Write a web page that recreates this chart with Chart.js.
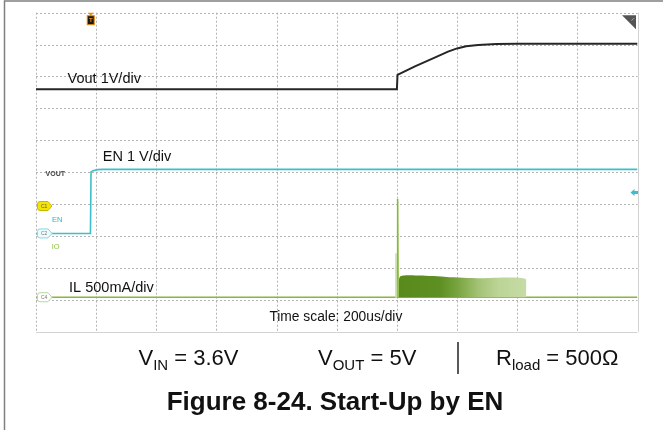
<!DOCTYPE html>
<html><head><meta charset="utf-8">
<script src="https://cdn.jsdelivr.net/npm/chart.js@4.4.0/dist/chart.umd.min.js"></script>
<style>html,body{margin:0;padding:0;background:#fff;}canvas{display:block;}</style>
</head><body>
<canvas id="c" width="663" height="430"></canvas>
<script>
// ---- axis description ----
const timePerDivUs = 200;          // 200 us/div
const timeDivs = 10;
const vertDivs = 10;

// ---- CH1 : Vout, 1 V/div ----
const voutOffsetDiv = 3.94;
const voutPerDiv = 1;
const voutTimeUs = [0, 1200, 1202, 1260, 1320, 1370, 1400, 1430, 1470, 1530, 1600, 2000];
const voutVolts  = [3.66, 3.66, 4.11, 4.38, 4.63, 4.84, 4.94, 5.01, 5.05, 5.08, 5.09, 5.09];

// ---- CH2 : EN, 1 V/div ----
const enOffsetDiv = 3.08;
const enPerDiv = 1;
const enTimeUs = [0, 181, 183, 188, 195, 205, 220, 2000];
const enVolts  = [0, 0, 1.93, 1.96, 1.98, 2.0, 2.01, 2.01];

// ---- CH4 : IL, 500 mA/div ----
const ilOffsetDiv = 1.08;
const ilPerDiv = 0.5;
const ilTimeUs = [0, 1201, 1202.5, 1204, 2000];
const ilAmps   = [0, 0, 1.54, 0, 0];
const ilGhostTimeUs = [1195, 1197, 1199];
const ilGhostAmps   = [0, 0.69, 0];
const ilBurstTimeUs = [1207, 1210, 1277, 1366, 1476, 1628, 1630];
const ilBurstAmps   = [0, 0.323, 0.339, 0.318, 0.298, 0.287, 0];

// ---- markers ----
const triggerTimeUs = 182;
const enTriggerLevelV = 1.28;

function toPoints(ts, vs, offset, perDiv) {
  return ts.map((t, i) => ({x: t, y: offset + vs[i] / perDiv}));
}

const FONT = '"Liberation Sans", Arial, sans-serif';

const scopePlugin = {
  id: 'scope',
  beforeDatasetsDraw(chart) {
    const {ctx, chartArea: a, scales: {x, y}} = chart;
    ctx.save();
    ctx.strokeStyle = '#b4b4b4';
    ctx.lineWidth = 1;
    ctx.setLineDash([2, 2]);
    for (let i = 0; i < timeDivs; i++) {
      const px = Math.round(x.getPixelForValue(i * timePerDivUs)) + 0.5;
      ctx.beginPath(); ctx.moveTo(px, a.top); ctx.lineTo(px, a.bottom); ctx.stroke();
    }
    for (let j = 1; j <= vertDivs; j++) {
      const py = Math.round(y.getPixelForValue(j)) + 0.5;
      ctx.beginPath(); ctx.moveTo(a.left, py); ctx.lineTo(a.right, py); ctx.stroke();
    }
    ctx.setLineDash([]);
    ctx.strokeStyle = '#d2d2d2';
    ctx.beginPath();
    ctx.moveTo(a.left, Math.round(a.bottom) + 0.5); ctx.lineTo(a.right, Math.round(a.bottom) + 0.5);
    ctx.moveTo(Math.round(a.right) + 0.5, a.top); ctx.lineTo(Math.round(a.right) + 0.5, a.bottom);
    ctx.stroke();
    ctx.restore();
  },
  afterDatasetsDraw(chart) {
    const {ctx, chartArea: a, scales: {x, y}} = chart;
    const X = t => x.getPixelForValue(t);
    const Y = d => y.getPixelForValue(d);
    ctx.save();
    // channel labels
    ctx.fillStyle = '#111';
    ctx.textBaseline = 'alphabetic';
    ctx.font = '14.5px ' + FONT;
    ctx.fillText('Vout 1V/div', X(105), Y(7.806));
    ctx.fillText('EN 1 V/div', X(222), Y(5.36));
    ctx.fillText('IL 500mA/div', X(110), Y(1.254));
    ctx.font = '13.8px ' + FONT;
    ctx.fillText('Time scale: 200us/div', X(776), Y(0.345));

    // tiny channel names
    ctx.textBaseline = 'middle';
    ctx.font = 'bold 7px ' + FONT;
    ctx.fillStyle = '#444';
    ctx.fillText('VOUT', X(32), Y(4.94));
    ctx.font = '7.5px ' + FONT;
    ctx.fillStyle = '#2fb5c0';
    ctx.fillText('EN', X(53), Y(3.50));
    ctx.fillStyle = '#8cbf3c';
    ctx.fillText('IO', X(52), Y(2.646));

    // ground tags
    function tag(yy, fill, stroke, label, lc) {
      const x0 = a.left + 1.5, h = 4.5, w = 14.5;
      ctx.beginPath();
      ctx.moveTo(x0 + 2.5, yy - h);
      ctx.lineTo(x0 + w - 4, yy - h);
      ctx.lineTo(x0 + w, yy);
      ctx.lineTo(x0 + w - 4, yy + h);
      ctx.lineTo(x0 + 2.5, yy + h);
      ctx.quadraticCurveTo(x0, yy + h, x0, yy + h - 2.5);
      ctx.lineTo(x0, yy - h + 2.5);
      ctx.quadraticCurveTo(x0, yy - h, x0 + 2.5, yy - h);
      ctx.closePath();
      ctx.fillStyle = fill; ctx.fill();
      ctx.strokeStyle = stroke; ctx.lineWidth = 1; ctx.stroke();
      ctx.fillStyle = lc; ctx.font = '5px ' + FONT; ctx.textBaseline = 'middle';
      ctx.fillText(label, x0 + 3.5, yy + 0.3);
    }
    tag(Y(voutOffsetDiv), '#f2e40a', '#c9b800', 'C1', '#555');
    tag(Y(enOffsetDiv), '#eefbfc', '#86d9e0', 'C2', '#777');
    tag(Y(ilOffsetDiv), '#ffffff', '#b6d99a', 'C4', '#777');

    // trigger position marker (top)
    const tx = X(triggerTimeUs);
    ctx.fillStyle = '#f08a10';
    ctx.beginPath(); ctx.moveTo(tx - 3, a.top); ctx.lineTo(tx + 3, a.top); ctx.lineTo(tx, a.top + 3); ctx.closePath(); ctx.fill();
    ctx.fillStyle = '#1a1a1a'; ctx.strokeStyle = '#f08a10'; ctx.lineWidth = 1;
    ctx.fillRect(tx - 3.5, a.top + 3, 7, 9); ctx.strokeRect(tx - 3.5, a.top + 3, 7, 9);
    ctx.fillStyle = '#f08a10'; ctx.font = 'bold 6px ' + FONT; ctx.textAlign = 'center';
    ctx.fillText('T', tx, a.top + 7.8);
    ctx.textAlign = 'left';

    // top-right triangle
    ctx.fillStyle = '#555';
    ctx.beginPath();
    ctx.moveTo(a.right - 15.5, a.top + 2.5); ctx.lineTo(a.right - 1.5, a.top + 2.5); ctx.lineTo(a.right - 1.5, a.top + 16.5); ctx.closePath(); ctx.fill();
    ctx.strokeStyle = '#aaa'; ctx.lineWidth = 1;
    ctx.beginPath(); ctx.moveTo(a.right - 6, a.top + 8); ctx.lineTo(a.right - 3.5, a.top + 5.5); ctx.stroke();

    // EN trigger level arrow (right)
    const ay = Y(enOffsetDiv + enTriggerLevelV / enPerDiv);
    ctx.fillStyle = '#3cbfca';
    ctx.beginPath();
    ctx.moveTo(a.right - 7, ay); ctx.lineTo(a.right - 3, ay - 3.5); ctx.lineTo(a.right - 3, ay - 1.5);
    ctx.lineTo(a.right + 0.5, ay - 1.5); ctx.lineTo(a.right + 0.5, ay + 1.5); ctx.lineTo(a.right - 3, ay + 1.5);
    ctx.lineTo(a.right - 3, ay + 3.5); ctx.closePath(); ctx.fill();
    ctx.restore();
  },
  afterDraw(chart) {
    const {ctx} = chart;
    ctx.save();
    // outer frame (left + top visible)
    ctx.strokeStyle = '#808080'; ctx.lineWidth = 1.5;
    ctx.beginPath(); ctx.moveTo(4.5, 430); ctx.lineTo(4.5, 1); ctx.lineTo(663, 1); ctx.stroke();

    // condition line
    ctx.fillStyle = '#111';
    ctx.textBaseline = 'alphabetic';
    function sub(xx, yy, main, s, rest) {
      ctx.font = '22px ' + FONT;
      ctx.fillText(main, xx, yy);
      let w = ctx.measureText(main).width;
      ctx.font = '15px ' + FONT;
      ctx.fillText(s, xx + w, yy + 5);
      w += ctx.measureText(s).width;
      ctx.font = '22px ' + FONT;
      ctx.fillText(rest, xx + w, yy);
    }
    sub(138.5, 365, 'V', 'IN', ' = 3.6V');
    sub(318, 365, 'V', 'OUT', ' = 5V');
    sub(496, 365, 'R', 'load', ' = 500\u03A9');
    ctx.strokeStyle = '#222'; ctx.lineWidth = 1.5;
    ctx.beginPath(); ctx.moveTo(458, 342); ctx.lineTo(458, 374); ctx.stroke();

    ctx.font = 'bold 26px ' + FONT;
    ctx.textAlign = 'center';
    ctx.fillText('Figure 8-24. Start-Up by EN', 335, 410);
    ctx.restore();
  }
};

const burstGradient = (context) => {
  const chart = context.chart;
  const {ctx, chartArea} = chart;
  if (!chartArea) return '#5e8e22';
  const xs = chart.scales.x;
  const x0 = xs.getPixelForValue(ilBurstTimeUs[0]);
  const x1 = xs.getPixelForValue(ilBurstTimeUs[ilBurstTimeUs.length - 1]);
  const g = ctx.createLinearGradient(x0, 0, x1, 0);
  g.addColorStop(0, '#5a8a1c');
  g.addColorStop(0.32, '#5e8f22');
  g.addColorStop(0.45, '#76a23c');
  g.addColorStop(0.62, '#a2c274');
  g.addColorStop(0.78, '#bcd496');
  g.addColorStop(1, '#c6dba6');
  return g;
};

new Chart(document.getElementById('c'), {
  type: 'line',
  data: {
    datasets: [
      {
        label: 'IL burst',
        data: toPoints(ilBurstTimeUs, ilBurstAmps, ilOffsetDiv, ilPerDiv),
        borderWidth: 0, borderColor: 'rgba(0,0,0,0)',
        backgroundColor: burstGradient,
        fill: {value: ilOffsetDiv}, pointRadius: 0, tension: 0.2
      },
      {
        label: 'IL ghost',
        data: toPoints(ilGhostTimeUs, ilGhostAmps, ilOffsetDiv, ilPerDiv),
        borderColor: '#c4dca2', borderWidth: 1.5, pointRadius: 0, fill: false
      },
      {
        label: 'IL',
        data: toPoints(ilTimeUs, ilAmps, ilOffsetDiv, ilPerDiv),
        borderColor: '#86b83a', borderWidth: 1.6, pointRadius: 0, fill: false
      },
      {
        label: 'EN',
        data: toPoints(enTimeUs, enVolts, enOffsetDiv, enPerDiv),
        borderColor: '#3cbfca', borderWidth: 1.6, pointRadius: 0, fill: false,
        tension: 0
      },
      {
        label: 'Vout',
        data: toPoints(voutTimeUs, voutVolts, voutOffsetDiv, voutPerDiv),
        borderColor: '#262626', borderWidth: 2, pointRadius: 0, fill: false,
        tension: 0
      }
    ]
  },
  options: {
    responsive: false,
    animation: false,
    events: [],
    layout: {padding: {left: 36, top: 12.7, right: 25.5, bottom: 98.3}},
    plugins: {legend: {display: false}, tooltip: {enabled: false}},
    scales: {
      x: {type: 'linear', display: false, min: 0, max: timeDivs * timePerDivUs},
      y: {type: 'linear', display: false, min: 0, max: vertDivs}
    }
  },
  plugins: [scopePlugin]
});
</script>
</body></html>
